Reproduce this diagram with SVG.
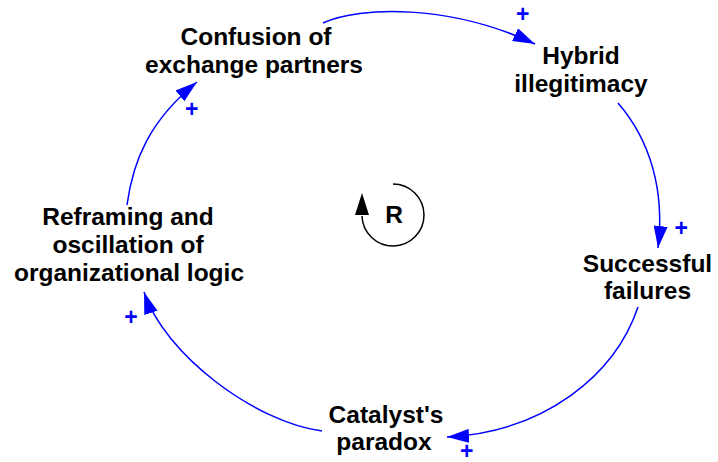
<svg xmlns="http://www.w3.org/2000/svg" width="718" height="462" viewBox="0 0 718 462">
<style>
.lbl{font-family:"Liberation Sans",Arial,Helvetica,sans-serif;font-weight:bold;font-size:24.5px;fill:#000;text-anchor:middle}
.pol{font-family:"Liberation Sans",Arial,Helvetica,sans-serif;font-weight:bold;font-size:23px;fill:#0000FF;text-anchor:middle}
.link{fill:none;stroke:#0000FF;stroke-width:1.5;marker-end:url(#ah)}
</style>
<defs>
<marker id="ah" viewBox="0 0 22 14" refX="22" refY="7" markerWidth="22" markerHeight="14" markerUnits="userSpaceOnUse" orient="auto">
<path d="M0,0 L22,7 L0,14 z" fill="#0000FF"/>
</marker>
</defs>
<rect width="718" height="462" fill="#fff"/>
<g id="connectors">
<path class="link" d="M323,23 C360,6 450,4 535,44"/>
<path class="link" d="M618,103 C650,140 665,190 658,248"/>
<path class="link" d="M638,307 C615,375 545,432 447,437"/>
<path class="link" d="M322,431 C255,422 165,355 144,292"/>
<path class="link" d="M127,205 C133,160 150,120 197,82"/>
</g>
<g id="polarities">
<text class="pol" x="522.7" y="22">+</text>
<text class="pol" x="681.3" y="236.3">+</text>
<text class="pol" x="466.7" y="459">+</text>
<text class="pol" x="131" y="325">+</text>
<text class="pol" x="191.7" y="117">+</text>
</g>
<g id="confusion">
<text class="lbl" x="256" y="45">Confusion of</text>
<text class="lbl" x="254" y="73.3">exchange partners</text>
</g>
<g id="hybrid">
<text class="lbl" x="581" y="64.3">Hybrid</text>
<text class="lbl" x="581" y="92.3">illegitimacy</text>
</g>
<g id="successful">
<text class="lbl" x="647.5" y="271.5">Successful</text>
<text class="lbl" x="647.5" y="299">failures</text>
</g>
<g id="catalyst">
<text class="lbl" x="386" y="422.5">Catalyst's</text>
<text class="lbl" x="384" y="450">paradox</text>
</g>
<g id="reframing">
<text class="lbl" x="128" y="225">Reframing and</text>
<text class="lbl" x="128" y="253.3">oscillation of</text>
<text class="lbl" x="129" y="281">organizational logic</text>
</g>
<g id="loop-R">
<path d="M393,184 A31,31 0 1,1 362,216" fill="none" stroke="#000" stroke-width="1.5"/>
<path d="M362,193 L355,215 L369,215 z" fill="#000"/>
<text class="lbl" x="394" y="223">R</text>
</g>
</svg>
